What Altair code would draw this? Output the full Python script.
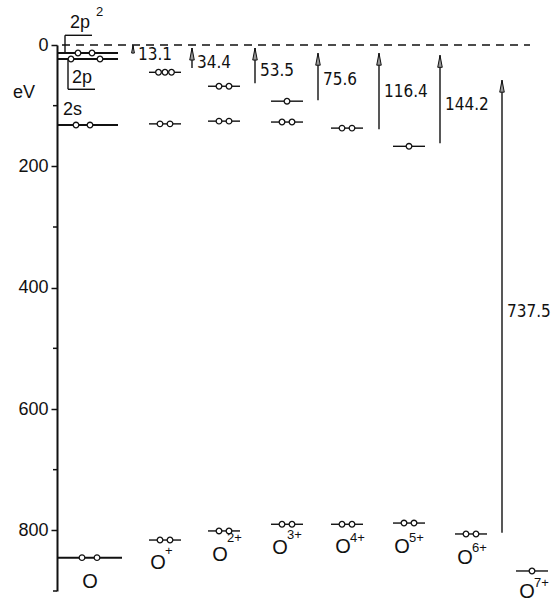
import altair as alt
import pandas as pd

# ---------------- data ----------------
ions = ["O", "O+", "O2+", "O3+", "O4+", "O5+", "O6+", "O7+"]
ion_charge = ["", "+", "2+", "3+", "4+", "5+", "6+", "7+"]

# one-electron levels (eV below the ionisation limit) and electrons on each
level_ion = ["O", "O", "O", "O", "O+", "O+", "O+", "O2+", "O2+", "O2+",
             "O3+", "O3+", "O3+", "O4+", "O4+", "O5+", "O5+", "O6+", "O7+"]
level_shell = ["2p", "2p", "2s", "1s", "2p", "2s", "1s", "2p", "2s", "1s",
               "2p", "2s", "1s", "2s", "1s", "2s", "1s", "1s", "1s"]
level_energy = [13.1, 23, 132, 845, 45, 130, 816, 68, 125.5, 801,
                92.6, 127, 790, 137, 790, 167, 788, 806, 867]
level_electrons = [2, 2, 2, 2, 3, 2, 2, 2, 2, 2, 1, 2, 2, 2, 2, 1, 2, 2, 1]

# ionisation energies shown by arrows
arrow_label = ["13.1", "34.4", "53.5", "75.6", "116.4", "144.2", "737.5"]
arrow_from = [13.5, 38, 63, 91, 139, 162, 804]
arrow_to = [0.5, 5, 5, 13.5, 13.5, 17, 58]
arrow_label_energy = [17, 30, 43, 58, 78, 99, 440]

major_ticks = [0, 200, 400, 600, 800]
minor_ticks = [100, 300, 500, 700, 900]

# ---------------- layout (horizontal positions in plot units) ----------------
col_center = {"O+": 108, "O2+": 167, "O3+": 230, "O4+": 290,
              "O5+": 352, "O6+": 414, "O7+": 475}
half_w = 16
o_circles = {0: [21, 35], 1: [14, 43], 2: [19, 33], 3: [25, 40]}
o_line_end = {0: 61, 1: 61, 2: 61, 3: 65}
ion_label_x = [33, 101, 163, 223, 286, 345, 408, 470]
ion_label_e = [885, 854, 841, 829, 827, 827, 845, 901]
ion_sup_e = [0, 834, 813, 807, 812, 812, 829, 887]
arrow_x = [76, 135, 198, 261, 322, 383, 445]

FONT = "Liberation Sans"
NARROW = "Liberation Sans Narrow, DejaVu Sans Condensed, Liberation Sans"

lines, circles = [], []
for i, (ion, e, n) in enumerate(zip(level_ion, level_energy, level_electrons)):
    if ion == "O":
        lines.append({"x0": 0, "x1": o_line_end[i], "e": e, "w": 2.0})
        for cx in o_circles[i]:
            circles.append({"x": cx, "e": e})
    else:
        c = col_center[ion]
        lines.append({"x0": c - half_w, "x1": c + half_w, "e": e, "w": 1.4})
        step = 6.5 if n == 3 else 10
        for k in range(n):
            circles.append({"x": c + (k - (n - 1) / 2) * step, "e": e})
lines_df = pd.DataFrame(lines)
circ_df = pd.DataFrame(circles)

arrows_df = pd.DataFrame({"x": arrow_x, "e0": arrow_from, "e1": arrow_to,
                          "label": arrow_label, "le": arrow_label_energy,
                          "lx": [x + 5 for x in arrow_x]})

ion_df = pd.DataFrame({"x": ion_label_x, "e": ion_label_e, "t": ["O"] * 8,
                       "sx": [x + 7 for x in ion_label_x], "se": ion_sup_e,
                       "sup": ion_charge})
sup_df = ion_df[ion_df["sup"] != ""]

xs = alt.Scale(domain=[0, 498], nice=False, zero=False)
ys = alt.Scale(domain=[0, 900], reverse=True, nice=False, zero=False)

yaxis = alt.Axis(values=major_ticks, title=None, tickSize=6, labelPadding=3,
                 domainWidth=2, domainColor="#111", tickColor="#111",
                 tickWidth=1.5, labelFont=FONT, labelFontSize=18,
                 labelColor="#111", grid=False, labelFlush=False)


def X(f):
    return alt.X(f, scale=xs, axis=None)


def Y(f):
    return alt.Y(f, scale=ys, axis=yaxis)


minor = alt.Chart(pd.DataFrame({"e": minor_ticks, "x0": -4, "x1": 0})).mark_rule(
    color="#111", strokeWidth=1.5).encode(x=X("x0:Q"), x2="x1:Q", y=Y("e:Q"))

zero_line = alt.Chart(pd.DataFrame({"e": [0], "x0": [5], "x1": [473]})).mark_rule(
    color="#111", strokeWidth=1.5, strokeDash=[8, 6]).encode(
    x=X("x0:Q"), x2="x1:Q", y=Y("e:Q"))

level_lines = alt.Chart(lines_df).mark_rule(color="#111").encode(
    x=X("x0:Q"), x2="x1:Q", y=Y("e:Q"),
    strokeWidth=alt.StrokeWidth("w:Q", scale=None))

circ = alt.Chart(circ_df).mark_point(
    shape="circle", filled=True, fill="white", stroke="#111",
    strokeWidth=1.3, size=32, opacity=1).encode(x=X("x:Q"), y=Y("e:Q"))

arrow_shafts = alt.Chart(arrows_df).mark_rule(color="#111", strokeWidth=1.4).encode(
    x=X("x:Q"), y=Y("e0:Q"), y2="e1:Q")

head_path = "M0,-1L0.38,1L-0.38,1Z"
big_heads = alt.Chart(arrows_df[arrows_df["label"] != "13.1"]).mark_point(
    shape=head_path, filled=True, fill="#999", stroke="#111", strokeWidth=1,
    size=144, yOffset=6, opacity=1).encode(x=X("x:Q"), y=Y("e1:Q"))
small_head = alt.Chart(arrows_df[arrows_df["label"] == "13.1"]).mark_point(
    shape=head_path, filled=True, fill="#999", stroke="#111", strokeWidth=1,
    size=56, yOffset=4, opacity=1).encode(x=X("x:Q"), y=Y("e1:Q"))

arrow_text = alt.Chart(arrows_df).mark_text(
    align="left", baseline="middle", font=NARROW, fontSize=17, color="#111").encode(
    x=X("lx:Q"), y=Y("le:Q"), text="label:N")

ion_text = alt.Chart(ion_df).mark_text(
    align="center", baseline="middle", font=FONT, fontSize=20, color="#111").encode(
    x=X("x:Q"), y=Y("e:Q"), text="t:N")
sup_text = alt.Chart(sup_df).mark_text(
    align="left", baseline="middle", font=FONT, fontSize=13, color="#111").encode(
    x=X("sx:Q"), y=Y("se:Q"), text="sup:N")

brackets_df = pd.DataFrame({"x": [8, 8, 11, 11], "x2": [8, 35, 11, 38],
                            "e": [-16, -16, 23, 73], "e2": [13.1, -16, 73, 73]})
brackets = alt.Chart(brackets_df).mark_rule(color="#111", strokeWidth=1.4).encode(
    x=X("x:Q"), x2="x2:Q", y=Y("e:Q"), y2="e2:Q")
shell_df = pd.DataFrame({"x": [13, 15, 6, -44], "e": [-36, 55, 107.5, 79],
                         "t": ["2p", "2p", "2s", "eV"]})
shell_text = alt.Chart(shell_df).mark_text(
    align="left", baseline="middle", font=FONT, fontSize=18, color="#111").encode(
    x=X("x:Q"), y=Y("e:Q"), text="t:N")
sq_text = alt.Chart(pd.DataFrame({"x": [39], "e": [-54], "t": ["2"]})).mark_text(
    align="left", baseline="middle", font=FONT, fontSize=13, color="#111").encode(
    x=X("x:Q"), y=Y("e:Q"), text="t:N")

chart = alt.layer(
    minor, zero_line, level_lines, brackets, arrow_shafts,
    big_heads, small_head, circ, arrow_text, ion_text, sup_text,
    shell_text, sq_text,
).properties(
    width=498, height=546, autosize="none",
    padding={"left": 57, "top": 45, "right": 0, "bottom": 15},
    background="white",
).configure_view(stroke=None)

chart.save("out.html", embed_options={"renderer": "svg", "actions": False})
